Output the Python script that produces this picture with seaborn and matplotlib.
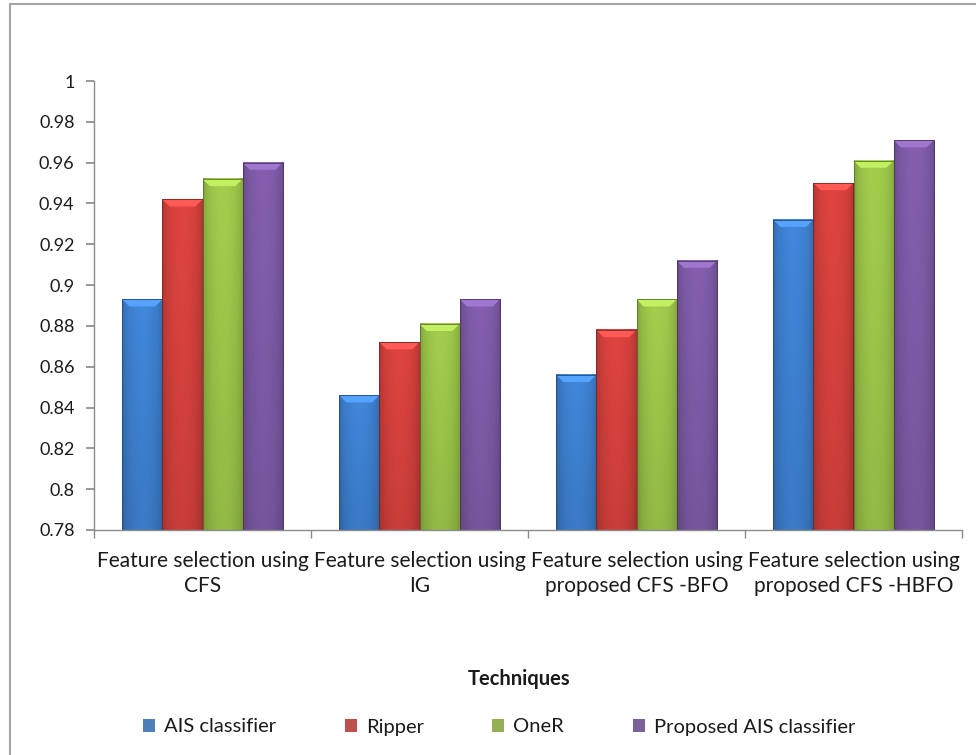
import numpy as np
import pandas as pd
import matplotlib
matplotlib.use("Agg")
import matplotlib.pyplot as plt
import matplotlib.patches as mpatches
from matplotlib.colors import to_rgb
import seaborn as sns

# Data
categories = [
    "Feature selection using\nCFS",
    "Feature selection using\nIG",
    "Feature selection using\nproposed CFS -BFO",
    "Feature selection using\nproposed CFS -HBFO",
]
series = ["AIS classifier", "Ripper", "OneR", "Proposed AIS classifier"]
ais_classifier = [0.893, 0.846, 0.856, 0.932]
ripper = [0.942, 0.872, 0.878, 0.950]
oner = [0.952, 0.881, 0.893, 0.961]
proposed_ais = [0.960, 0.893, 0.912, 0.971]
y_ticks = [0.78, 0.8, 0.82, 0.84, 0.86, 0.88, 0.9, 0.92, 0.94, 0.96, 0.98, 1]

colors = ["#3C7DCB", "#CF3F3B", "#97BF47", "#7A58A2"]

df = pd.DataFrame({
    "Technique": categories * 4,
    "Classifier": np.repeat(series, 4),
    "Value": ais_classifier + ripper + oner + proposed_ais,
})

sns.set_theme(style="white")
plt.rcParams["font.family"] = ["Lato", "DejaVu Sans"]
text_color = "#1b1b1b"

fig = plt.figure(figsize=(9.76, 7.55), dpi=100)
ax = fig.add_axes([94 / 976, 1 - 530 / 755, (962 - 94) / 976, (530 - 81) / 755])

sns.barplot(data=df, x="Technique", y="Value", hue="Classifier",
            palette=colors, width=0.74, gap=0, ax=ax, legend=True,
            edgecolor="none", linewidth=0)

ymin, ymax = 0.78, 1.0

# Bevelled, shaded face on each bar
def shade(patch, base):
    x0, w = patch.get_x(), patch.get_width()
    top = patch.get_y() + patch.get_height()
    y0 = max(patch.get_y(), ymin)
    if top <= y0:
        return
    rgb = np.array(to_rgb(base))
    t = np.linspace(0, 1, 64)
    prof = 0.82 + 0.26 * np.sin(np.pi * t) ** 0.5
    vert = np.linspace(1.0, 0.90, 64)[:, None]
    img = np.clip(rgb[None, None, :] * prof[None, :, None] * vert[:, :, None], 0, 1)
    ax.imshow(img, extent=[x0, x0 + w, y0, top], aspect="auto",
              origin="upper", zorder=patch.get_zorder() + 0.1)
    cap = 0.0035
    inset = w * 0.18
    light = np.clip(rgb * 1.18 + 0.06, 0, 1)
    bevel = mpatches.Polygon(
        [(x0, top), (x0 + w, top), (x0 + w - inset, top - cap),
         (x0 + inset, top - cap)],
        closed=True, facecolor=light, edgecolor="none",
        zorder=patch.get_zorder() + 0.2)
    ax.add_patch(bevel)
    outline = mpatches.Rectangle((x0, y0), w, top - y0, facecolor="none",
                                 edgecolor=tuple(rgb * 0.6), linewidth=0.6,
                                 zorder=patch.get_zorder() + 0.3)
    ax.add_patch(outline)

for container, col in zip(ax.containers, colors):
    for p in container.patches:
        shade(p, col)

ax.set_xlim(-0.5, 3.5)
ax.set_ylim(ymin, ymax)

# Axes styling
for s in ["top", "right"]:
    ax.spines[s].set_visible(False)
for s in ["left", "bottom"]:
    ax.spines[s].set_color("#8c8c8c")
    ax.spines[s].set_linewidth(1.0)
    ax.spines[s].set_zorder(10)

ax.set_yticks(y_ticks)
ax.set_yticklabels([f"{v:g}" for v in y_ticks], fontsize=13, color=text_color)
ax.tick_params(axis="y", direction="out", length=6, color="#8c8c8c", pad=8, left=True)

ax.set_xticks(range(len(categories)))
ax.set_xticklabels(categories, fontsize=15, color=text_color, linespacing=1.35)
ax.tick_params(axis="x", length=0, pad=15)
ax.set_xticks([-0.5, 0.5, 1.5, 2.5, 3.5], minor=True)
ax.tick_params(axis="x", which="minor", direction="out", length=6,
               color="#8c8c8c", bottom=True)

ax.set_xlabel("")
ax.set_ylabel("")
ax.grid(False)

fig.text(519 / 976, 1 - 679 / 755, "Techniques", ha="center", va="center",
         fontsize=14.5, fontweight="bold", color=text_color)

handles, labels = ax.get_legend_handles_labels()
ax.legend_.remove()
leg = fig.legend(handles, labels, loc="center", bbox_to_anchor=(499 / 976, 1 - 727 / 755),
                 ncol=4, frameon=False, fontsize=14.5, handlelength=0.6,
                 handleheight=0.6, handletextpad=0.45, columnspacing=3.4)
for t in leg.get_texts():
    t.set_color(text_color)

# Chart area border
fig.patches.append(mpatches.Rectangle((10 / 976, -0.1), 1.2, 1 - 4 / 755 + 0.1,
                                      transform=fig.transFigure, fill=False,
                                      edgecolor="#a6a6a6", linewidth=1.5))

fig.savefig("out.png", dpi=100)
